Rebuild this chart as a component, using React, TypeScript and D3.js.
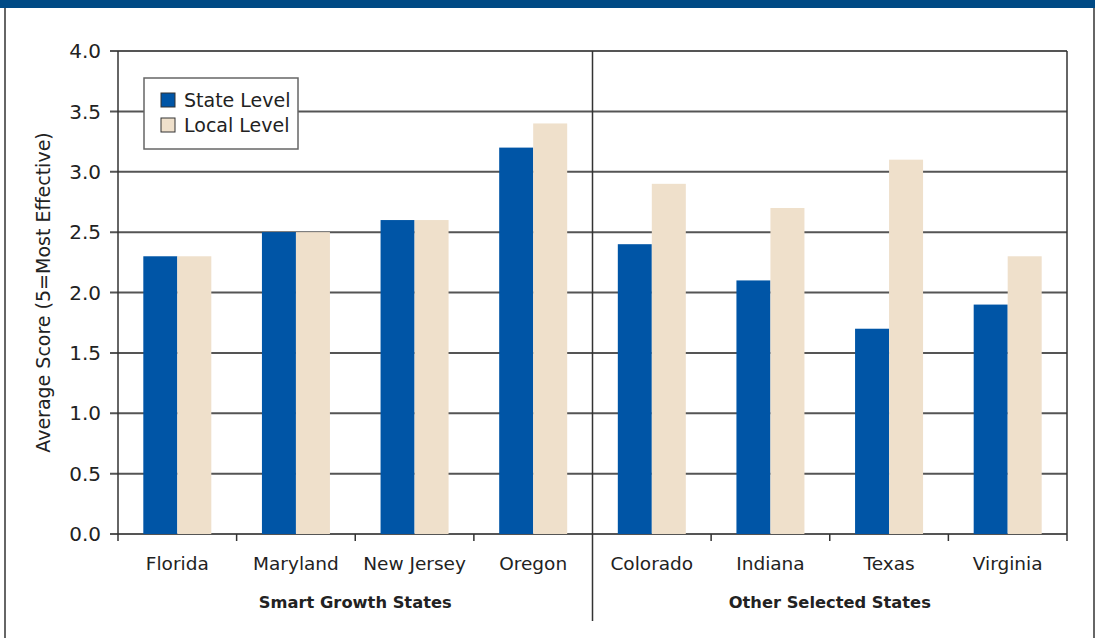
import React from "react";
import * as d3 from "d3";

const groups = ["Smart Growth States", "Other Selected States"];
const categories = ["Florida", "Maryland", "New Jersey", "Oregon", "Colorado", "Indiana", "Texas", "Virginia"];
const categoryGroup = [0, 0, 0, 0, 1, 1, 1, 1];
const stateLevel = [2.3, 2.5, 2.6, 3.2, 2.4, 2.1, 1.7, 1.9];
const localLevel = [2.3, 2.5, 2.6, 3.4, 2.9, 2.7, 3.1, 2.3];
const seriesNames = ["State Level", "Local Level"];
const yTicks = [0, 0.5, 1, 1.5, 2, 2.5, 3, 3.5, 4];

const W = 1098, H = 638;
const left = 118, right = 1067, top = 51, bottom = 534;
const colors = ["#0055a6", "#efe0cb"];
const font = "DejaVu Sans, Verdana, sans-serif";

export default function App() {
  const x = d3.scaleBand<string>().domain(categories).range([left, right]).paddingInner(0).paddingOuter(0);
  const y = d3.scaleLinear().domain([0, 4]).range([bottom, top]);
  const barW = 34;
  const series = [stateLevel, localLevel];
  const bw = x.bandwidth();
  const sep = x(categories[4])!;

  return (
    <svg width={W} height={H} style={{ position: "absolute", left: 0, top: 0 }} fontFamily={font}>
      <rect x={0} y={0} width={W} height={H} fill="#fff" />
      <rect x={0} y={0} width={1095} height={8} fill="#004a85" />
      <line x1={5} x2={5} y1={8} y2={H} stroke="#333" strokeWidth={1.5} />
      <line x1={1094} x2={1094} y1={8} y2={H} stroke="#333" strokeWidth={1.5} />

      {yTicks.map((t) => (
        <g key={t}>
          <line x1={left - 8} x2={right} y1={y(t)} y2={y(t)} stroke="#555" strokeWidth={2} />
          <text x={left - 17} y={y(t)} dy="0.36em" textAnchor="end" fontSize={20} fill="#222">
            {t.toFixed(1)}
          </text>
        </g>
      ))}

      {categories.map((c, i) =>
        series.map((s, k) => (
          <rect
            key={c + k}
            x={x(c)! + bw / 2 - barW + k * barW}
            y={y(s[i])}
            width={barW}
            height={y(0) - y(s[i])}
            fill={colors[k]}
          />
        ))
      )}

      <line x1={left} x2={left} y1={top} y2={bottom + 7} stroke="#333" strokeWidth={1.5} />
      <line x1={right} x2={right} y1={top} y2={bottom + 7} stroke="#333" strokeWidth={1.5} />
      <line x1={sep} x2={sep} y1={top} y2={621} stroke="#333" strokeWidth={1.5} />
      {categories.map((c, i) =>
        i > 0 && i !== 4 ? (
          <line key={"t" + c} x1={x(c)!} x2={x(c)!} y1={bottom} y2={bottom + 7} stroke="#333" strokeWidth={1.5} />
        ) : null
      )}

      {categories.map((c) => (
        <text key={"l" + c} x={x(c)! + bw / 2} y={570} textAnchor="middle" fontSize={18.5} fill="#222">
          {c}
        </text>
      ))}
      {groups.map((g, gi) => {
        const cs = categories.filter((_, i) => categoryGroup[i] === gi);
        const cx = (x(cs[0])! + x(cs[cs.length - 1])! + bw) / 2;
        return (
          <text key={g} x={cx} y={608} textAnchor="middle" fontSize={16.3} fontWeight="bold" fill="#222">
            {g}
          </text>
        );
      })}

      <text
        transform={`translate(50, ${(top + bottom) / 2}) rotate(-90)`}
        textAnchor="middle"
        fontSize={19}
        fill="#222"
      >
        Average Score (5=Most Effective)
      </text>

      <rect x={144} y={78} width={154} height={71} fill="#fff" stroke="#666" strokeWidth={1.5} />
      {seriesNames.map((n, k) => (
        <g key={n}>
          <rect x={161} y={93 + k * 25} width={14} height={14} fill={colors[k]} stroke="#333" strokeWidth={1} />
          <text x={184} y={100 + k * 25} dy="0.36em" fontSize={19} fill="#222">
            {n}
          </text>
        </g>
      ))}
    </svg>
  );
}
